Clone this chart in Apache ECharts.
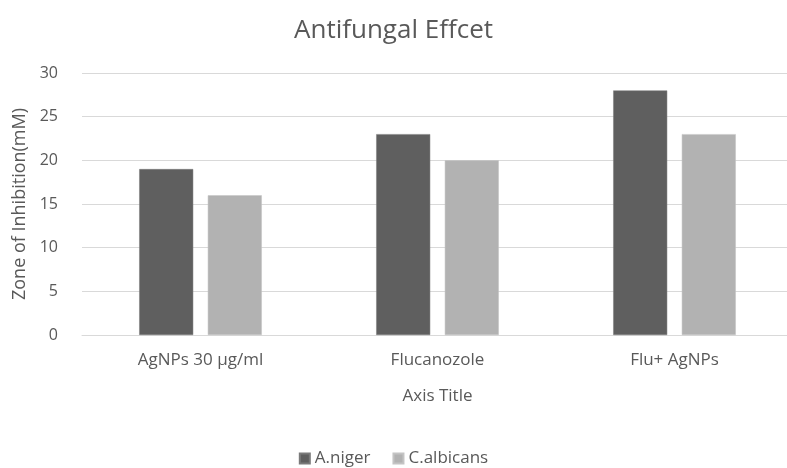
<!DOCTYPE html>
<html>
<head>
<meta charset="utf-8">
<script src="https://cdn.jsdelivr.net/npm/echarts@6/dist/echarts.min.js"></script>
<style>
  html, body { margin: 0; padding: 0; background: #fff; }
  #chart { width: 787px; height: 468px; }
</style>
</head>
<body>
<div id="chart"></div>
<script>
var categories = ['AgNPs 30 µg/ml', 'Flucanozole', 'Flu+ AgNPs'];
var nigerValues = [19, 23, 28];
var albicansValues = [16, 20, 23];
var seriesNames = ['A.niger', 'C.albicans'];

var fontFam = '"Open Sans", "Liberation Sans", sans-serif';
var textCol = '#595959';

var myChart = echarts.init(document.getElementById('chart'));
var option = {
    animation: false,
    textStyle: { fontFamily: fontFam },
    title: {
        text: 'Antifungal Effcet',
        left: 'center',
        top: 13,
        textStyle: { fontFamily: fontFam, fontSize: 26, fontWeight: 'normal', color: textCol }
    },
    legend: {
        data: seriesNames,
        bottom: 1,
        left: 'center',
        padding: 0,
        icon: 'rect',
        itemWidth: 10,
        itemHeight: 10,
        itemGap: 22,
        textStyle: { fontFamily: fontFam, fontSize: 17, color: textCol }
    },
    grid: {
        left: 82,
        top: 73,
        width: 711,
        height: 262,
        outerBoundsMode: 'none'
    },
    xAxis: {
        type: 'category',
        data: categories,
        name: 'Axis Title',
        nameLocation: 'middle',
        nameGap: 53,
        nameTextStyle: { fontFamily: fontFam, fontSize: 17, color: textCol },
        axisLine: { lineStyle: { color: '#d9d9d9', width: 1 } },
        axisTick: { show: false },
        axisLabel: { margin: 17, fontFamily: fontFam, fontSize: 17, color: textCol }
    },
    yAxis: {
        type: 'value',
        min: 0,
        max: 30,
        interval: 5,
        name: 'Zone of Inhibition(mM)',
        nameLocation: 'middle',
        nameGap: 51,
        nameTextStyle: { fontFamily: fontFam, fontSize: 18, color: textCol },
        axisLine: { show: false },
        axisTick: { show: false },
        axisLabel: { margin: 24, fontFamily: fontFam, fontSize: 16, color: textCol },
        splitLine: { lineStyle: { color: '#d9d9d9', width: 1 } }
    },
    series: [
        {
            name: seriesNames[0],
            type: 'bar',
            data: nigerValues,
            barWidth: 54,
            barGap: '27%',
            itemStyle: { color: '#5f5f5f', borderColor: '#7a7a7a', borderWidth: 0.5 }
        },
        {
            name: seriesNames[1],
            type: 'bar',
            data: albicansValues,
            barWidth: 54,
            barGap: '27%',
            itemStyle: { color: '#b2b2b2', borderColor: '#c4c4c4', borderWidth: 0.5 }
        }
    ]
};
myChart.setOption(option);
</script>
</body>
</html>
